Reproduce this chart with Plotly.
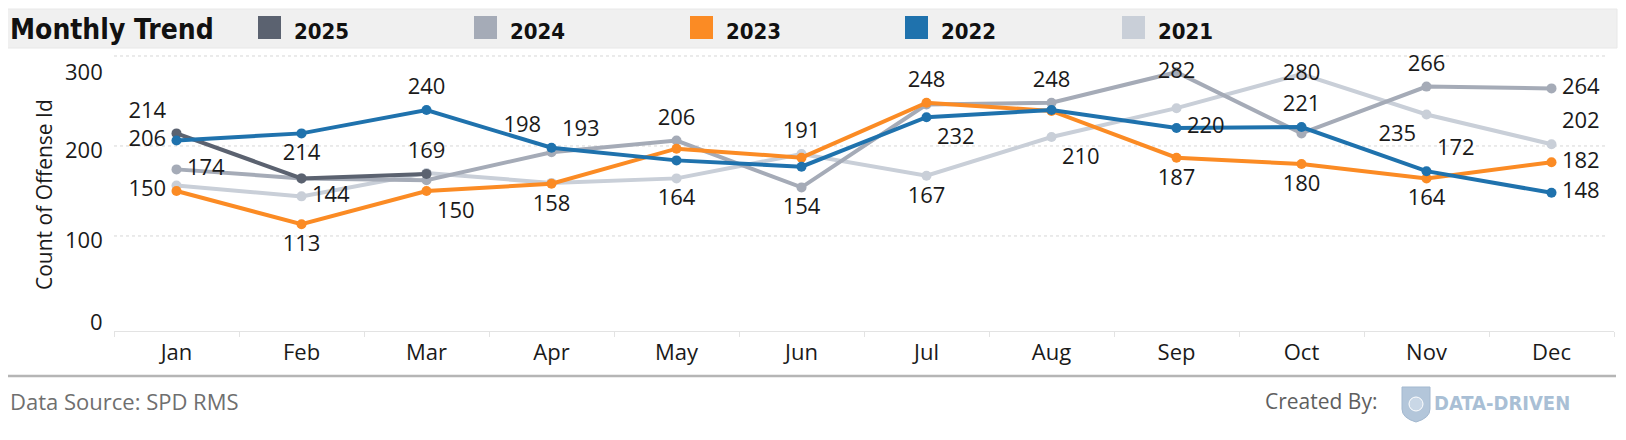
import plotly.graph_objects as go

# ---------------- data ----------------
months = ["Jan", "Feb", "Mar", "Apr", "May", "Jun", "Jul", "Aug", "Sep", "Oct", "Nov", "Dec"]
years = ["2025", "2024", "2023", "2022", "2021"]

v2025 = [214, 164, 169]
v2024 = [174, 164, 162, 193, 206, 154, 246, 248, 282, 214, 266, 264]
v2023 = [150, 113, 150, 158, 197, 187, 248, 239, 187, 180, 164, 182]
v2022 = [206, 214, 240, 198, 184, 177, 232, 240, 220, 221, 172, 148]
v2021 = [156, 144, 170, 159, 164, 191, 167, 210, 242, 280, 235, 202]

y_ticks = [0, 100, 200, 300]
grid_vals = [100, 200, 300]
y_title = "Count of Offense Id"

# label placement (style, not data)
pos2025 = ["top left", None, "top center"]
pos2024 = ["middle right", None, None, "top right", "top center", "bottom center", None,
           "top center", "middle center", None, "top center", "middle right"]
pos2023 = ["middle left", "bottom center", "bottom right", "bottom center", None, None,
           "top center", None, "bottom center", "bottom center", "bottom center", "middle right"]
pos2022 = ["middle left", "bottom center", "top center", "top left", None, None,
           "bottom right", None, "middle right", "top center", "top right", "middle right"]
pos2021 = [None, "middle right", None, None, "bottom center", "top center",
           "bottom center", "bottom right", None, "middle center", "bottom left", "top right"]
tick_label_yshift = [5, -3, -3, -15]

series = {
    "2025": (v2025, pos2025, "#5b6270"),
    "2024": (v2024, pos2024, "#a5abb7"),
    "2023": (v2023, pos2023, "#fb8b24"),
    "2022": (v2022, pos2022, "#1f72ad"),
    "2021": (v2021, pos2021, "#c9cfd8"),
}
draw_order = ["2021", "2024", "2025", "2023", "2022"]

# ---------------- layout geometry (pixels inside the figure) ----------------
W, H = 1610, 424
L, R, T, B = 106, 1606, 47, 323
PW, PH = R - L, B - T


def px(x):
    return (x - L) / PW


def py(y):
    return (B - y) / PH


AX_FONT = "Open Sans, Noto Sans, sans-serif"
COND = "DejaVu Sans Condensed, DejaVu Sans, sans-serif"
TXT = "#1a1a1a"

fig = go.Figure()

for yr in draw_order:
    vals, pos, col = series[yr]
    fig.add_trace(go.Scatter(
        x=months[:len(vals)], y=vals, mode="lines+markers", name=yr,
        line=dict(color=col, width=4), marker=dict(color=col, size=10),
        showlegend=False, hoverinfo="skip"))

for yr in draw_order:
    vals, pos, col = series[yr]
    xs = [m for m, p in zip(months, pos) if p]
    ys = [v for v, p in zip(vals, pos) if p]
    ps = [p for p in pos if p]
    fig.add_trace(go.Scatter(
        x=xs, y=ys, mode="markers+text", text=[str(v) for v in ys], textposition=ps,
        marker=dict(size=15, opacity=0),
        textfont=dict(family=AX_FONT, size=22, color=TXT),
        showlegend=False, hoverinfo="skip", cliponaxis=False))

shapes = []
for g in grid_vals:
    shapes.append(dict(type="line", xref="paper", yref="y", x0=0, x1=0.995, y0=g, y1=g,
                       line=dict(color="#d6d6d6", width=1, dash="dot"), layer="below"))

# header band
shapes.append(dict(type="rect", xref="paper", yref="paper", x0=px(-2), x1=px(1609),
                   y0=py(40), y1=py(1), fillcolor="#f0f0f0", line=dict(color="#e8e8e8", width=1),
                   layer="below"))
# footer separator
shapes.append(dict(type="line", xref="paper", yref="paper", x0=px(-2), x1=px(1608),
                   y0=py(368), y1=py(368), line=dict(color="#b5b5b5", width=2.5)))

annotations = [dict(text="<b>Monthly Trend</b>", xref="paper", yref="paper", x=px(0), y=py(21),
                    xanchor="left", yanchor="middle", showarrow=False,
                    font=dict(family=COND, size=28, color="#111"))]

# y tick labels and title
for v, sh in zip(y_ticks, tick_label_yshift):
    annotations.append(dict(text=str(v), xref="paper", yref="y", x=px(97), y=v, yshift=sh,
                            xanchor="right", yanchor="middle", showarrow=False,
                            font=dict(family=AX_FONT, size=22, color=TXT)))
annotations.append(dict(text=y_title, xref="paper", yref="paper", x=px(36), y=py(187),
                        textangle=-90, xanchor="center", yanchor="middle", showarrow=False,
                        font=dict(family=AX_FONT, size=21, color=TXT)))

leg_x = [250, 466, 682, 897, 1114]
for yr, lx in zip(years, leg_x):
    col = series[yr][2]
    shapes.append(dict(type="rect", xref="paper", yref="paper", x0=px(lx), x1=px(lx + 23),
                       y0=py(31), y1=py(8), fillcolor=col, line=dict(width=0)))
    annotations.append(dict(text="<b>" + yr + "</b>", xref="paper", yref="paper",
                            x=px(lx + 34), y=py(23), xanchor="left", yanchor="middle",
                            showarrow=False, font=dict(family=COND, size=22, color="#111")))

annotations.append(dict(text="Data Source: SPD RMS", xref="paper", yref="paper", x=px(0), y=py(393),
                        xanchor="left", yanchor="middle", showarrow=False,
                        font=dict(family=AX_FONT, size=22, color="#6f6f6f")))
annotations.append(dict(text="Created By:", xref="paper", yref="paper", x=px(1371), y=py(393),
                        xanchor="right", yanchor="middle", showarrow=False,
                        font=dict(family=AX_FONT, size=21, color="#5f5f5f")))
# logo: badge + wordmark
badge = "M {x0},{y0} L {x1},{y0} L {x1},{y2} Q {x1},{y3} {xm},{y4} Q {x0},{y3} {x0},{y2} Z".format(
    x0=px(1394), x1=px(1422), xm=px(1408), y0=py(379), y2=py(401), y3=py(410), y4=py(414))
shapes.append(dict(type="path", xref="paper", yref="paper", path=badge,
                   fillcolor="#b3c6da", line=dict(color="#a3b8cf", width=1)))
shapes.append(dict(type="circle", xref="paper", yref="paper", x0=px(1401), x1=px(1415),
                   y0=py(403), y1=py(389), fillcolor="#c9d7e6", line=dict(color="#ffffff", width=1)))
annotations.append(dict(text="<b>DATA-DRIVEN</b>", xref="paper", yref="paper", x=px(1424), y=py(395),
                        xanchor="left", yanchor="middle", showarrow=False,
                        font=dict(family=COND, size=20, color="#a9bfd5")))

fig.update_layout(
    width=W, height=H, margin=dict(l=L, r=W - R, t=T, b=H - B, pad=0),
    paper_bgcolor="white", plot_bgcolor="white",
    shapes=shapes, annotations=annotations, showlegend=False,
    xaxis=dict(type="category", categoryorder="array", categoryarray=months,
               range=[-0.5, 11.5], showgrid=False, zeroline=False,
               showline=True, linecolor="#e3e3e3", linewidth=1,
               ticks="outside", tickson="boundaries", ticklen=5, tickcolor="#e3e3e3",
               tickfont=dict(family=AX_FONT, size=22, color=TXT), ticklabelstandoff=2),
    yaxis=dict(range=[-5.6, 301.1], tickvals=y_ticks, showgrid=False, zeroline=False,
               showline=False, ticks="", showticklabels=False),
)

fig.write_html("out.html")
